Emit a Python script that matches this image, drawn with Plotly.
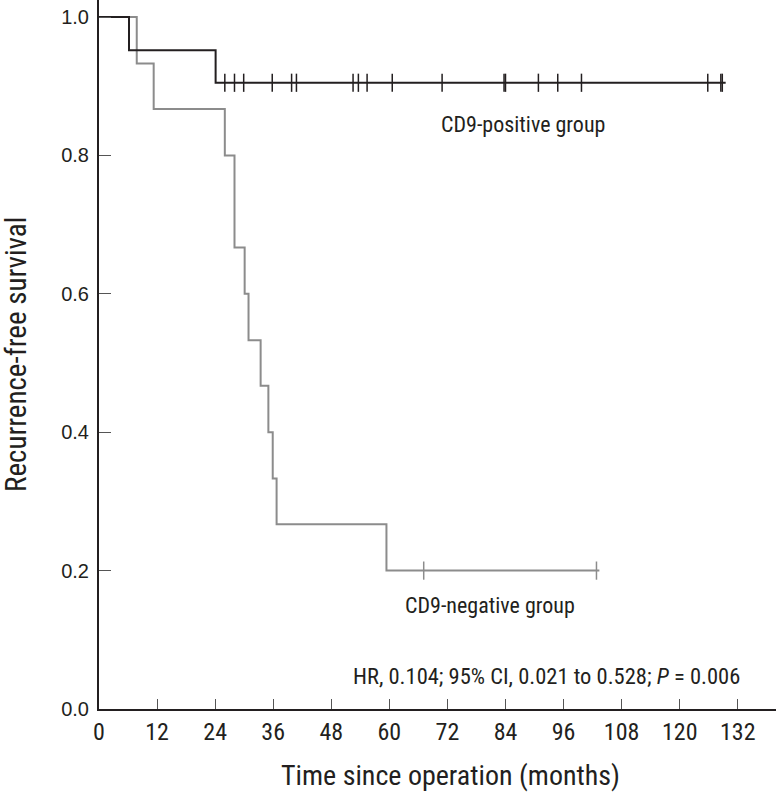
import plotly.graph_objects as go

# CD9-positive group (Kaplan-Meier steps)
pos_times = [0, 6.2, 24.1, 129.5]
pos_surv = [1.0, 0.952, 0.905, 0.905]
pos_censor_times = [26.0, 28.0, 29.9, 35.8, 39.8, 40.8, 52.5, 53.6, 55.4, 60.6,
                    70.9, 83.7, 84.0, 90.8, 94.8, 99.7, 125.8, 128.5, 128.8]
pos_censor_surv = [0.905] * len(pos_censor_times)

# CD9-negative group
neg_times = [0, 7.8, 11.3, 26.0, 28.0, 30.1, 30.9, 33.4, 35.0, 35.9, 36.7, 59.4, 103.4]
neg_surv = [1.0, 0.933, 0.867, 0.8, 0.667, 0.6, 0.533, 0.467, 0.4, 0.333, 0.267, 0.2, 0.2]
neg_censor_times = [67.1, 102.8]
neg_censor_surv = [0.2, 0.2]

x_ticks = [0, 12, 24, 36, 48, 60, 72, 84, 96, 108, 120, 132]
y_ticks = [0.0, 0.2, 0.4, 0.6, 0.8, 1.0]

BLACK = "#231f20"
GRAY = "#8c8c8c"
NARROW = "Roboto Condensed, Liberation Sans Narrow, sans-serif"

W, H = 778, 796
L, R, T, B = 99, 2, 0, 87


def px_to_paper(px, py):
    return (px - L) / (W - L - R), (H - B - py) / (H - T - B)


fig = go.Figure()
fig.add_trace(go.Scatter(x=neg_times, y=neg_surv, mode="lines", line_shape="hv",
                         line=dict(color=GRAY, width=2), showlegend=False))
fig.add_trace(go.Scatter(x=neg_censor_times, y=neg_censor_surv, mode="markers",
                         marker=dict(symbol="line-ns", size=13, line=dict(color=GRAY, width=1.5)),
                         showlegend=False))
fig.add_trace(go.Scatter(x=pos_times, y=pos_surv, mode="lines", line_shape="hv",
                         line=dict(color=BLACK, width=2), showlegend=False))
fig.add_trace(go.Scatter(x=pos_censor_times, y=pos_censor_surv, mode="markers",
                         marker=dict(symbol="line-ns", size=13, line=dict(color=BLACK, width=1.5)),
                         showlegend=False))

fig.add_annotation(x=87.7, y=0.844, xref="x", yref="y", text="CD9-positive group",
                   showarrow=False, font=dict(family=NARROW, size=22, color=BLACK))
fig.add_annotation(x=80.8, y=0.150, xref="x", yref="y", text="CD9-negative group",
                   showarrow=False, font=dict(family=NARROW, size=22, color=BLACK))
fig.add_annotation(x=132.8, y=0.048, xref="x", yref="y",
                   text="HR, 0.104; 95% CI, 0.021 to 0.528; <i>P</i> = 0.006",
                   showarrow=False, xanchor="right", font=dict(family=NARROW, size=22.5, color=BLACK))

# axis titles placed where they sit in the reference
tx, ty = px_to_paper(450, 775)
fig.add_annotation(x=tx, y=ty, xref="paper", yref="paper", text="Time since operation (months)",
                   showarrow=False, xanchor="center", yanchor="middle",
                   font=dict(family=NARROW, size=28, color=BLACK))
yx, yy = px_to_paper(16, 355)
fig.add_annotation(x=yx, y=yy, xref="paper", yref="paper", text="Recurrence-free survival",
                   textangle=-90, showarrow=False, xanchor="center", yanchor="middle",
                   font=dict(family=NARROW, size=29, color=BLACK))

fig.update_layout(
    width=W, height=H,
    margin=dict(l=L, r=R, t=T, b=B),
    paper_bgcolor="white", plot_bgcolor="white",
    xaxis=dict(range=[0, 139.9], tickvals=x_ticks, ticktext=[str(v) for v in x_ticks],
               ticks="inside", ticklen=10, tickwidth=1, tickcolor="#555555",
               showline=True, linecolor=BLACK, linewidth=2, showgrid=False, zeroline=False,
               automargin=False,
               tickfont=dict(family=NARROW, size=24, color=BLACK)),
    yaxis=dict(range=[0, 1.0246], tickvals=y_ticks, ticktext=[f"{v:.1f}" for v in y_ticks],
               ticks="inside", ticklen=12, tickwidth=1, tickcolor="#555555",
               showline=True, linecolor=BLACK, linewidth=2, showgrid=False, zeroline=False,
               automargin=False, ticklabelstandoff=4,
               tickfont=dict(family="Liberation Sans, Arial, sans-serif", size=20, color=BLACK)),
)

fig.write_html("out.html", config={"displayModeBar": False},
               post_script="document.body.style.margin='0';")
